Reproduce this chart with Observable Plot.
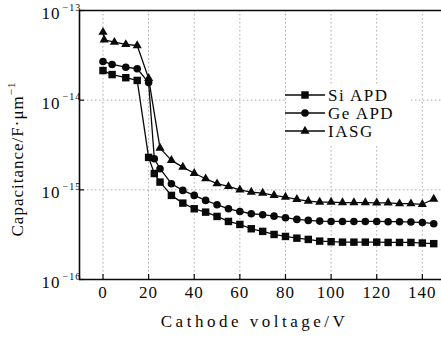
<!DOCTYPE html>
<html><head><meta charset="utf-8">
<script src="https://cdn.jsdelivr.net/npm/d3@7"></script>
<script src="https://cdn.jsdelivr.net/npm/@observablehq/plot@0.6"></script>
<style>
body{margin:0;background:#fff}
svg text, svg tspan{letter-spacing:1px;font-family:"Liberation Serif",serif !important}
</style>
</head><body><div id="chart"></div>
<script>
const seriesNames = ["Si APD", "Ge APD", "IASG"];
const seriesSymbols = ["square", "circle", "triangle"];

const siVoltage = [0,4,10,15,20,22.5,25,30,35,40,45,50,55,60,65,70,75,80,85,90,95,100,105,110,115,120,125,130,135,140,145];
const siCap = [2.14e-14,1.93e-14,1.78e-14,1.66e-14,2.30e-15,1.52e-15,1.22e-15,8.67e-16,7.11e-16,6.15e-16,5.64e-16,5.05e-16,4.44e-16,4.11e-16,3.68e-16,3.44e-16,3.18e-16,3.02e-16,2.89e-16,2.80e-16,2.68e-16,2.64e-16,2.61e-16,2.61e-16,2.61e-16,2.61e-16,2.59e-16,2.59e-16,2.59e-16,2.55e-16,2.51e-16];

const geVoltage = [0,4,10,15,20,22.5,25,30,35,40,45,50,55,60,65,70,75,80,85,90,95,100,105,110,115,120,125,130,135,140,145];
const geCap = [2.70e-14,2.50e-14,2.33e-14,2.24e-14,1.57e-14,2.22e-15,1.72e-15,1.17e-15,9.85e-16,8.67e-16,7.62e-16,6.82e-16,6.15e-16,5.74e-16,5.41e-16,5.28e-16,5.09e-16,4.89e-16,4.68e-16,4.56e-16,4.48e-16,4.44e-16,4.44e-16,4.44e-16,4.44e-16,4.44e-16,4.41e-16,4.41e-16,4.37e-16,4.33e-16,4.19e-16];

const iasgVoltage = [0,0.5,5,10,15,20,25,30,35,40,45,50,55,60,65,70,75,80,85,90,95,100,105,110,115,120,125,130,135,140,145];
const iasgCap = [5.73e-14,4.71e-14,4.43e-14,4.18e-14,4.07e-14,1.75e-14,2.92e-15,2.13e-15,1.79e-15,1.53e-15,1.33e-15,1.17e-15,1.09e-15,1.00e-15,9.42e-16,9.19e-16,8.67e-16,8.30e-16,7.82e-16,7.48e-16,7.29e-16,7.30e-16,7.20e-16,7.20e-16,7.20e-16,7.15e-16,7.15e-16,7.00e-16,7.00e-16,6.90e-16,7.90e-16];

const xTicks = [0,20,40,60,80,100,120,140];
const yTicks = [1e-16,1e-15,1e-14,1e-13];
const yTickExponents = ["\u221216","\u221215","\u221214","\u221213"];
const xLabel = "Cathode voltage/V";
const yLabelMain = "Capacitance/F\u00B7\u03BCm";
const yLabelSup = "\u22121";

const data = [
  ...siVoltage.map((v,i)=>({series:seriesNames[0], v, c:siCap[i]})),
  ...geVoltage.map((v,i)=>({series:seriesNames[1], v, c:geCap[i]})),
  ...iasgVoltage.map((v,i)=>({series:seriesNames[2], v, c:iasgCap[i]}))
];

const W = 441, H = 340, mL = 79, mT = 10, mB = 61, mR = 0;
const serif = "Liberation Serif";
const ink = "#0a0a0a";
const rBySymbol = {square: 4.2, circle: 3.8, triangle: 3.4};
const xDomain = [-10.3, 148.4];

const chart = Plot.plot({
  width: W, height: H, marginLeft: mL, marginTop: mT, marginBottom: mB, marginRight: mR,
  style: {fontFamily: serif, fontSize: "17px", color: ink, background: "#fff", overflow: "visible"},
  x: {domain: xDomain, axis: null},
  y: {type: "log", domain: [1e-16, 1e-13], axis: null},
  marks: [
    Plot.ruleX(xTicks, {stroke: "#aaa", strokeWidth: 1, strokeDasharray: "1.5,2.5"}),
    Plot.ruleY(yTicks, {stroke: "#aaa", strokeWidth: 1, strokeDasharray: "1.5,2.5"}),
    Plot.ruleX(xTicks, {stroke: ink, strokeWidth: 1.2, insetTop: H - mT - mB - 5}),
    Plot.ruleY(yTicks, {stroke: ink, strokeWidth: 1.2, insetRight: W - mL - mR - 5}),
    Plot.ruleX([xDomain[0]], {stroke: ink, strokeWidth: 1.6}),
    Plot.ruleY([1e-16, 1e-13], {stroke: ink, strokeWidth: 1.6}),
    Plot.line(data, {x: "v", y: "c", z: "series", stroke: ink, strokeWidth: 1.3}),
    ...seriesNames.map((s, i) => Plot.dot(data.filter(d => d.series === s), {
      x: "v", y: "c", symbol: () => seriesSymbols[i], fill: ink, stroke: "none", r: rBySymbol[seriesSymbols[i]]
    })),
    Plot.text(xTicks, {x: d => d, frameAnchor: "bottom", dy: 18, text: d => String(d), fill: ink, fontSize: 17}),
    Plot.text(yTicks, {y: d => d, frameAnchor: "left", text: () => "10", textAnchor: "end", dx: -19, dy: 3, fill: ink, fontSize: 17}),
    Plot.text(yTicks, {y: d => d, frameAnchor: "left", text: (d, i) => yTickExponents[i], textAnchor: "start", dx: -17, dy: -3, fill: ink, fontSize: 10}),
    Plot.text([xLabel], {frameAnchor: "bottom", dx: -6, dy: 47, text: d => d, fill: ink, fontSize: 17})
  ]
});

const svg = d3.select(chart);
svg.selectAll("text").filter(function(){ return this.textContent === xLabel; }).style("letter-spacing", "3.5px");

// y axis title
const yt = svg.append("text")
  .attr("transform", "translate(17,159) rotate(-90)")
  .attr("text-anchor", "middle")
  .attr("dy", "0.35em")
  .attr("font-family", serif).attr("font-size", 17).attr("fill", ink)
  .style("letter-spacing", "2.7px");
yt.append("tspan").text(yLabelMain);
yt.append("tspan").attr("font-size", 11).attr("dy", -8).text(yLabelSup);

// legend
const lg = svg.append("g");
lg.append("rect").attr("x", 286).attr("y", 84).attr("width", 124).attr("height", 60).attr("fill", "#fff");
seriesNames.forEach((s, i) => {
  const y = 95 + 18 * i;
  lg.append("line").attr("x1", 285).attr("x2", 325).attr("y1", y).attr("y2", y).attr("stroke", ink).attr("stroke-width", 1.5);
  const sym = {square: d3.symbolSquare, circle: d3.symbolCircle, triangle: d3.symbolTriangle}[seriesSymbols[i]];
  const r = rBySymbol[seriesSymbols[i]];
  lg.append("path").attr("transform", `translate(305,${y})`).attr("d", d3.symbol(sym, Math.PI * r * r)()).attr("fill", ink);
  lg.append("text").attr("x", 328).attr("y", y).attr("dy", "0.35em").attr("text-anchor", "start")
    .attr("font-family", serif).attr("font-size", 17).attr("fill", ink).style("letter-spacing", "1.5px").text(s);
});

document.getElementById("chart").appendChild(chart);
</script>
</body></html>
